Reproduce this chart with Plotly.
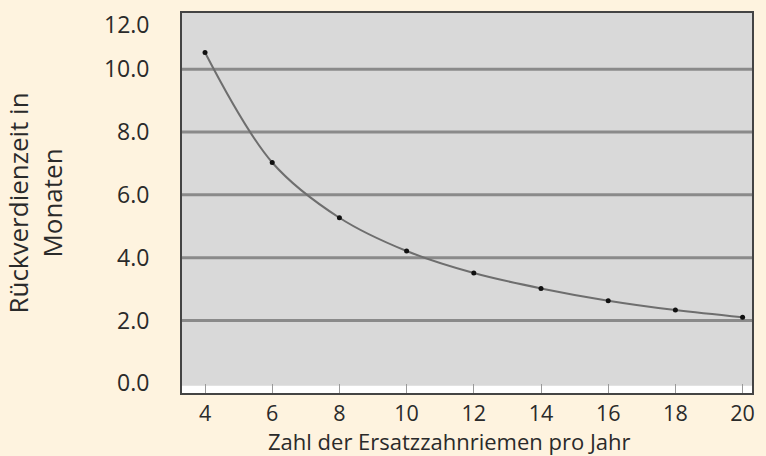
import plotly.graph_objects as go

x_values = [4, 6, 8, 10, 12, 14, 16, 18, 20]
y_values = [10.53, 7.03, 5.27, 4.21, 3.51, 3.02, 2.63, 2.33, 2.1]
y_tickvals = [0, 2, 4, 6, 8, 10]
y_ticktext = ["0.0", "2.0", "4.0", "6.0", "8.0", "10.0"]
y_top_label = "12.0"
x_tickvals = [4, 6, 8, 10, 12, 14, 16, 18, 20]
x_title = "Zahl der Ersatzzahnriemen pro Jahr"
y_title = "Rückverdienzeit in<br>Monaten"

FONT = "Open Sans"
TXT = "#2a2a2a"
BG = "#FEF3DF"

fig = go.Figure()
fig.add_trace(go.Scatter(
    x=x_values, y=y_values, mode="lines+markers",
    line=dict(color="#6e6e6e", width=2, shape="spline", smoothing=1.0),
    marker=dict(color="#111111", size=5),
    showlegend=False,
))

fig.add_shape(type="rect", xref="paper", yref="y", x0=0, x1=1, y0=-0.31, y1=-0.08,
              fillcolor="white", line=dict(width=0), layer="below")

fig.update_layout(
    width=766, height=456,
    margin=dict(l=182, r=14, t=13, b=63, autoexpand=False),
    paper_bgcolor=BG,
    plot_bgcolor="#D9D9D9",
    font=dict(family=FONT, color=TXT),
    xaxis=dict(
        range=[3.315, 20.28],
        tickvals=x_tickvals,
        ticks="inside", ticklen=9, tickcolor="#9a9a9a", tickwidth=1,
        tickfont=dict(size=21.5, family=FONT, color=TXT),
        showgrid=False, zeroline=False, automargin=False,
        showline=True, linecolor="#444444", linewidth=2, mirror=True,
    ),
    yaxis=dict(
        range=[-0.31, 11.79],
        tickvals=y_tickvals, ticktext=y_ticktext,
        ticks="", ticklabelstandoff=26,
        tickfont=dict(size=23, family=FONT, color=TXT),
        showgrid=False, zeroline=False, automargin=False,
        showline=True, linecolor="#444444", linewidth=2, mirror=True,
        title=dict(text=y_title, font=dict(size=26, family=FONT, color=TXT), standoff=39),
    ),
)

for v in [2, 4, 6, 8, 10]:
    fig.add_shape(type="line", xref="paper", yref="y", x0=0, x1=1, y0=v, y1=v,
                  line=dict(color="#8a8a8a", width=3), layer="below")

fig.add_annotation(text=y_top_label, xref="paper", yref="paper", x=0, y=0.971,
                   xanchor="right", yanchor="middle", xshift=-30, showarrow=False,
                   font=dict(size=23, family=FONT, color=TXT))

fig.add_annotation(text=x_title, xref="paper", yref="paper", x=0.47, y=-0.1276,
                   xanchor="center", yanchor="middle", showarrow=False,
                   font=dict(size=22, family=FONT, color=TXT))

fig.write_html("out.html",
               config={"displayModeBar": False},
               post_script="document.body.style.margin='0';document.body.style.background='%s';" % BG)
